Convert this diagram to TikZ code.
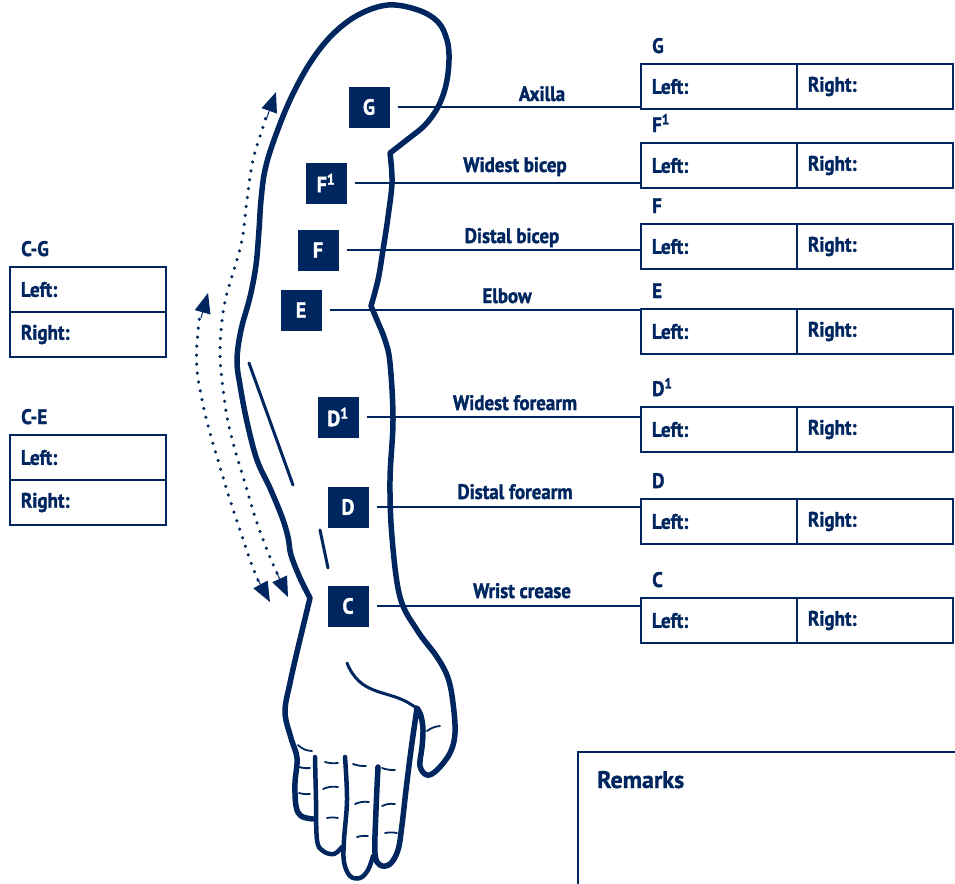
\documentclass[tikz,border=0pt]{standalone}
\usepackage{fontspec}
\setmainfont{PT Sans}[FakeStretch=0.9, BoldFeatures={FakeBold=1.6}]
\newfontfamily\remarksfont{PT Sans}[BoldFeatures={FakeBold=1}]
\usetikzlibrary{arrows.meta,positioning}

\definecolor{arm-navy}{RGB}{0,38,96}

\tikzset{
  marker/.style={fill=arm-navy, text=white, minimum size=41pt, inner sep=0pt,
    font=\fontsize{22}{22}\selectfont\bfseries},
  cell/.style={draw=arm-navy, line width=2.4pt, text=arm-navy, text width=134pt,
    inner xsep=11pt, inner ysep=0pt, outer sep=0pt, minimum height=45pt, align=left,
    font=\fontsize{21}{21}\selectfont\bfseries},
  lbl/.style={text=arm-navy, inner sep=0pt, font=\fontsize{21}{21}\selectfont\bfseries},
  conn/.style={draw=arm-navy, line width=2.2pt},
  outline/.style={draw=arm-navy, line width=5.5pt, line join=round, line cap=round},
  finger/.style={draw=arm-navy, line width=4.5pt, line cap=round},
  crease/.style={draw=arm-navy, line width=1.8pt, line cap=round},
  dotline/.style={draw=arm-navy, line width=3.5pt, line cap=round, dash pattern=on 0pt off 9pt},
  dottip/.style={draw=arm-navy, line width=1pt, -{Triangle[length=20pt,width=16pt]}}
}

\begin{document}
\begin{tikzpicture}[x=1pt,y=-1pt]
  \useasboundingbox (0,0) rectangle (955,883);

  % the arm
  \draw[outline] plot[smooth, tension=0.6] coordinates {(313,819) (301,816) (296,806) (295,783)
      (297,758) (291,738) (285,712) (290,683) (297,652) (303,627) (310,598)}
    -- plot[smooth, tension=0.6] coordinates {(310,598) (300,578) (291,555) (288,537) (282,517)
      (270,488) (257,460) (247,422) (240,385) (237,360) (241,330) (250,297) (256,265) (259,230)
      (261,200) (265,170) (274,140) (290,100) (310,63) (332,35) (358,15) (388,5) (418,10)
      (438,22) (447,40) (449,60) (446,85) (438,107) (425,125) (408,139) (390,153)}
    -- plot[smooth, tension=0.6] coordinates {(390,153) (392,182) (388,217) (383,250) (378,280) (371,306)}
    -- plot[smooth, tension=0.6] coordinates {(371,306) (377,320) (385,340) (390,363) (393,420)
      (390,480) (392,537) (400,597) (417,630) (437,657) (448,678) (453,703) (455,733) (450,753)
      (437,770) (427,775) (420,766) (422,747) (423,730) (421,716) (417,708)}
    -- plot[smooth, tension=0.6] coordinates {(417,708) (411,750) (406,790) (402,825) (398,850)
      (390,864) (380,865) (375,853) (376,810) (378,767)};

  % fingers
  \draw[finger] plot[smooth, tension=0.6] coordinates {(315,757) (316,800) (317,840) (323,851) (334,854) (342,847)};
  \draw[finger] plot[smooth, tension=0.6] coordinates {(345,757) (347,800) (344,840) (344,862) (350,876) (360,878) (368,870) (373,856)};

  % creases
  \draw[draw=arm-navy, line width=3pt, line cap=round] (347,663) .. controls (360,695) and (385,690) .. (407,702) -- (417,708);
  \draw[draw=arm-navy, line width=3pt, line cap=round] (249,363) -- (293,485);
  \draw[draw=arm-navy, line width=3pt, line cap=round] (320,530) -- (328,568);
  \draw[crease] (298,745) to[bend right=20] (312,751);
  \draw[crease] (299,767) to[bend right=10] (310,768);
  \draw[crease] (299,793) to[bend right=10] (310,794);
  \draw[crease] (325,762) to[bend right=10] (338,763);
  \draw[crease] (323,789) to[bend left=15] (338,787);
  \draw[crease] (327,818) to[bend left=10] (338,818);
  \draw[crease] (353,764) to[bend right=10] (366,766);
  \draw[crease] (355,804) to[bend left=15] (369,802);
  \draw[crease] (357,837) to[bend left=10] (368,836);
  \draw[crease] (382,768) to[bend right=10] (395,770);
  \draw[crease] (382,806) to[bend left=15] (395,804);
  \draw[crease] (385,833) to[bend left=10] (397,833);
  \draw[crease] (427,731) to[bend left=15] (440,726);

  % measuring directions
  \draw[dotline] plot[smooth, tension=0.6] coordinates {(277,573) (267,550) (255,517)
    (245,483) (235,450) (227,417) (222,380) (220,353) (222,320) (227,293) (233,273) (242,240)
    (247,200) (253,160) (263,127) (266,116)};
  \draw[dottip] (276,571) -- (288,597);
  \draw[dottip] (266,120) -- (276,92);
  \draw[dotline] plot[smooth, tension=0.6] coordinates {(258,580) (250,560) (240,530)
    (230,500) (220,467) (210,433) (202,400) (197,370) (197,343) (200,315) (202,312)};
  \draw[dottip] (257,578) -- (270,602);
  \draw[dottip] (201,318) -- (208,293);

  % markers on the arm
  \node[marker] (mG) at (369,107) {G};
  \node[marker] (mFi) at (326,183) {F\textsuperscript{1}};
  \node[marker] (mF) at (318,250) {F};
  \node[marker] (mE) at (301,310) {E};
  \node[marker] (mDi) at (338,417) {D\textsuperscript{1}};
  \node[marker] (mD) at (348,507) {D};
  \node[marker] (mC) at (348,606) {C};

  % boxes on the right
  \node[cell] (bGl) at (719,86.5) {Left:};
  \node[cell, right=0pt of bGl] (bGr) {Right:};
  \node[lbl, anchor=base west] (tG) at ([xshift=11pt, yshift=11pt]bGl.north west) {G};

  \node[cell] (bFil) at (719,165.5) {Left:};
  \node[cell, right=0pt of bFil] (bFir) {Right:};
  \node[lbl, anchor=base west] (tFi) at ([xshift=11pt, yshift=11pt]bFil.north west) {F\textsuperscript{1}};

  \node[cell] (bFl) at (719,246.5) {Left:};
  \node[cell, right=0pt of bFl] (bFr) {Right:};
  \node[lbl, anchor=base west] (tF) at ([xshift=11pt, yshift=11pt]bFl.north west) {F};

  \node[cell] (bEl) at (719,331.5) {Left:};
  \node[cell, right=0pt of bEl] (bEr) {Right:};
  \node[lbl, anchor=base west] (tE) at ([xshift=11pt, yshift=11pt]bEl.north west) {E};

  \node[cell] (bDil) at (719,429.5) {Left:};
  \node[cell, right=0pt of bDil] (bDir) {Right:};
  \node[lbl, anchor=base west] (tDi) at ([xshift=11pt, yshift=11pt]bDil.north west) {D\textsuperscript{1}};

  \node[cell] (bDl) at (719,521.5) {Left:};
  \node[cell, right=0pt of bDl] (bDr) {Right:};
  \node[lbl, anchor=base west] (tD) at ([xshift=11pt, yshift=11pt]bDl.north west) {D};

  \node[cell] (bCl) at (719,620.5) {Left:};
  \node[cell, right=0pt of bCl] (bCr) {Right:};
  \node[lbl, anchor=base west] (tC) at ([xshift=11pt, yshift=11pt]bCl.north west) {C};

  % lines to the boxes
  \draw[conn, shorten <=8pt] (mG.east) -- (mG.east -| bGl.west);
  \draw[conn, shorten <=8pt] (mFi.east) -- (mFi.east -| bFil.west);
  \draw[conn, shorten <=8pt] (mF.east) -- (mF.east -| bFl.west);
  \draw[conn, shorten <=8pt] (mE.east) -- (mE.east -| bEl.west);
  \draw[conn, shorten <=8pt] (mDi.east) -- (mDi.east -| bDil.west);
  \draw[conn, shorten <=8pt] (mD.east) -- (mD.east -| bDl.west);
  \draw[conn, shorten <=8pt] (mC.east) -- (mC.east -| bCl.west);

  \node[lbl, anchor=base] (lAx) at (542,101) {Axilla};
  \node[lbl, anchor=base] (lWb) at (515,172) {Widest bicep};
  \node[lbl, anchor=base] (lDb) at (512,243) {Distal bicep};
  \node[lbl, anchor=base] (lEl) at (507,303) {Elbow};
  \node[lbl, anchor=base] (lWf) at (515,410) {Widest forearm};
  \node[lbl, anchor=base] (lDf) at (515,499) {Distal forearm};
  \node[lbl, anchor=base] (lWc) at (522,598) {Wrist crease};

  % boxes on the left
  \node[cell] (bCGl) at (88,289.5) {Left:};
  \node[cell, below=0pt of bCGl] (bCGr) {Right:};
  \node[lbl, anchor=base west] (tCG) at ([xshift=11pt, yshift=11pt]bCGl.north west) {C-G};

  \node[cell] (bCEl) at (88,457.5) {Left:};
  \node[cell, below=0pt of bCEl] (bCEr) {Right:};
  \node[lbl, anchor=base west] (tCE) at ([xshift=11pt, yshift=11pt]bCEl.north west) {C-E};

  % remarks
  \draw[draw=arm-navy, line width=2.4pt] (578,895) -- (578,752) -- (965,752);
  \node[text=arm-navy, anchor=base west, inner sep=0pt, font=\remarksfont\fontsize{24}{24}\selectfont\bfseries] (rem) at (597,788) {Remarks};
\end{tikzpicture}
\end{document}
